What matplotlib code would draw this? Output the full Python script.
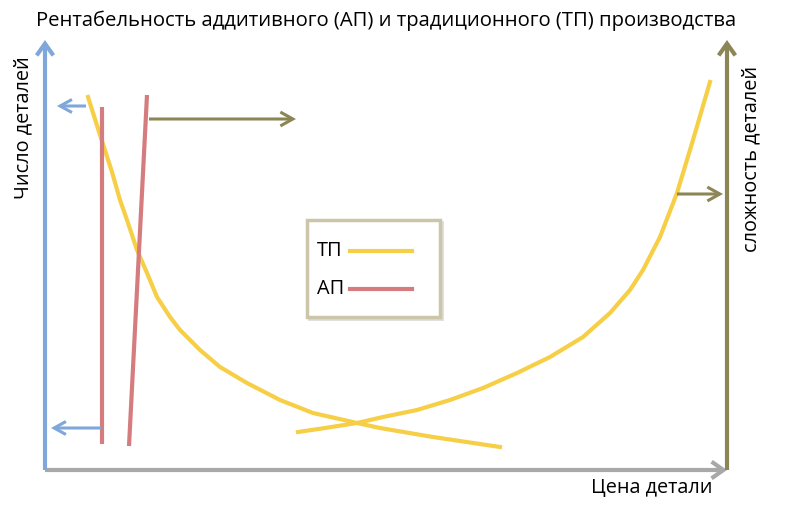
import matplotlib
matplotlib.use("Agg")
import matplotlib.pyplot as plt
from matplotlib.patches import Rectangle

plt.rcParams['font.family'] = ['Open Sans', 'DejaVu Sans']

# chart units: origin at the crossing of the axes, x = price, y = count
X_MAX = 682
Y_MAX = 430

# ТП, falling branch (число деталей)
tp_fall_x = [43, 55, 67, 75, 82, 92, 102, 112, 125, 135, 155, 175, 202, 235, 268, 312, 335, 388, 455]
tp_fall_y = [373, 335, 298, 270, 250, 220, 197, 173, 153, 140, 120, 103, 87, 70, 57, 47, 42, 33, 23]

# ТП, rising branch (сложность деталей)
tp_rise_x = [253, 280, 312, 338, 372, 405, 438, 472, 505, 538, 565, 585, 598, 615, 632, 648, 665]
tp_rise_y = [38, 42, 47, 53, 60, 70, 82, 97, 113, 133, 157, 180, 200, 233, 277, 330, 388]

# АП lines
ap1_x = [57, 57]
ap1_y = [363, 26]
ap2_x = [102, 84]
ap2_y = [375, 24]

# small arrows: (x_from, x_to, y)
blue_arrows = [(41, 12, 364), (56, 6, 42)]
olive_arrows = [(104, 251, 351), (632, 678, 276)]

legend_labels = ["ТП", "АП"]

title = "Рентабельность аддитивного (АП) и традиционного (ТП) производства"
ylabel_left = "Число деталей"
ylabel_right = "сложность деталей"
xlabel = "Цена детали"

BLUE = "#7fa7d9"
YELLOW = "#f6cf47"
RED = "#d57c7e"
OLIVE = "#8c8656"
GRAY = "#a8a8a8"
FS = 14.3

fig = plt.figure(figsize=(8, 5.12), dpi=100)
ax = fig.add_axes([45/800, 42/512, 682/800, 430/512])
ax.set_xlim(0, X_MAX)
ax.set_ylim(0, Y_MAX)
ax.axis('off')

def arrow(x0, y0, x1, y1, color, lw, hl, hw):
    ax.annotate("", xy=(x1, y1), xytext=(x0, y0),
                arrowprops=dict(arrowstyle="->,head_length=%s,head_width=%s" % (hl, hw),
                                color=color, lw=lw, shrinkA=0, shrinkB=0,
                                capstyle='butt', joinstyle='miter'),
                annotation_clip=False)

# axes
arrow(0, 0, X_MAX, 0, GRAY, 3.0, 0.85, 0.6)
arrow(0, 0, 0, Y_MAX, BLUE, 3.0, 0.85, 0.6)
arrow(X_MAX, 0, X_MAX, Y_MAX, OLIVE, 3.0, 0.85, 0.6)

# curves
ax.plot(tp_fall_x, tp_fall_y, color=YELLOW, lw=3.0, solid_joinstyle='round')
ax.plot(tp_rise_x, tp_rise_y, color=YELLOW, lw=3.0, solid_joinstyle='round')
ax.plot(ap1_x, ap1_y, color=RED, lw=3.0, solid_capstyle='butt')
ax.plot(ap2_x, ap2_y, color=RED, lw=3.0, solid_capstyle='butt')

for x0, x1, y in blue_arrows:
    arrow(x0, y, x1, y, BLUE, 2.2, 0.85, 0.47)
for x0, x1, y in olive_arrows:
    arrow(x0, y, x1, y, OLIVE, 2.2, 0.9, 0.5)

# legend box (label first, then line sample)
bx, by, bw, bh = 307/800, 1 - 317/512, 133/800, 97/512
fig.patches.append(Rectangle((bx + 2/800, by - 2/512), bw, bh, transform=fig.transFigure,
                             facecolor='none', edgecolor="#dcdcd8", lw=2.0))
fig.patches.append(Rectangle((bx, by), bw, bh, transform=fig.transFigure,
                             facecolor='white', edgecolor="#cbc5a9", lw=2.5))
for label, color, ypx in zip(legend_labels, [YELLOW, RED], [251, 289]):
    fig.text(317/800, 1 - ypx/512, label, ha='left', va='center', fontsize=FS)
    fig.add_artist(plt.Line2D([350/800, 412/800], [1 - ypx/512, 1 - ypx/512],
                              color=color, lw=3.0, transform=fig.transFigure))

fig.text(386/800, 1 - 21/512, title, ha='center', va='center', fontsize=14.6)
fig.text(23/800, 1 - 128/512, ylabel_left, ha='center', va='center',
         rotation=90, fontsize=FS)
fig.text(751/800, 1 - 159/512, ylabel_right, ha='center', va='center',
         rotation=90, fontsize=FS)
fig.text(652/800, 1 - 488/512, xlabel, ha='center', va='center', fontsize=FS)

fig.savefig("out.png", dpi=100)
